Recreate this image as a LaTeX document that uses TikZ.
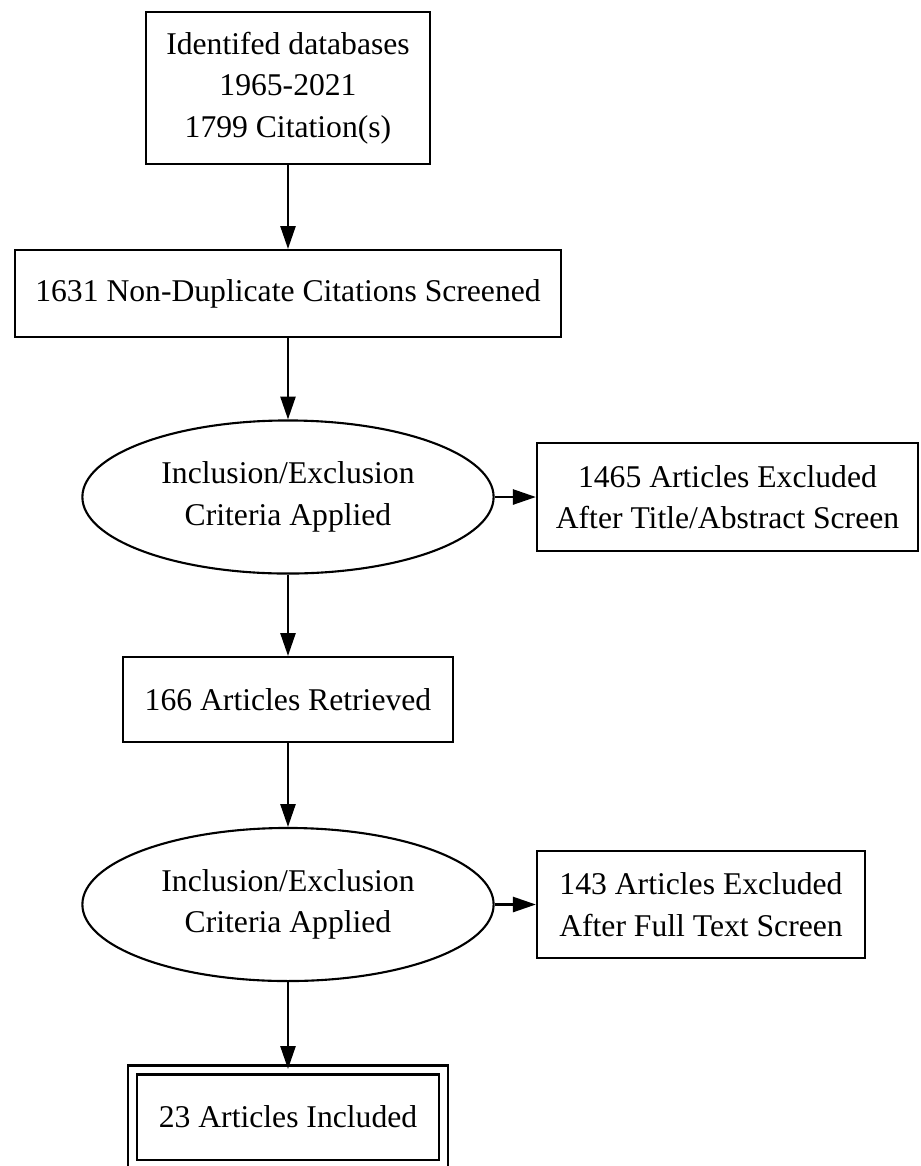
\documentclass[tikz,border=0pt]{standalone}
\usepackage{fontspec}
\setmainfont{Liberation Serif}
\usetikzlibrary{arrows.meta}
\usetikzlibrary{shapes.geometric}
\usetikzlibrary{math}

\tikzset{
  box/.style={draw, rectangle, line width=0.6pt, inner sep=0pt, align=center,
    font=\fontsize{9}{11.8}\selectfont},
  oval/.style={box, ellipse, minimum width=4.11cm, minimum height=1.53cm},
  arr/.style={-{Triangle[length=6.5pt,width=4.3pt]}, line width=0.6pt},
}

\begin{document}
\begin{tikzpicture}[x=0.01cm, y=-0.01cm]
\tikzmath{
\cx=288;
\rx=537;
}
\useasboundingbox (0,0) rectangle (920,1166);
\fill[white] (0,0) rectangle (920,1166);

%%%%%%%%%%   main column
\node[box, minimum width=2.84cm, minimum height=1.52cm] (id) at (\cx,88)
  {Identifed databases\\1965-2021\\1799 Citation(s)};
\node[box, minimum width=5.46cm, minimum height=0.87cm] (screen) at (\cx,293.5)
  {1631 Non-Duplicate Citations Screened};
\node[oval] (crit1) at (\cx,497) {Inclusion/Exclusion\\Criteria Applied};
\node[box, minimum width=3.30cm, minimum height=0.85cm] (retr) at (\cx,699.5)
  {166 Articles Retrieved};
\node[oval] (crit2) at (\cx,904.5) {Inclusion/Exclusion\\Criteria Applied};
\node[box, double, double distance=1.95pt, minimum width=3.11cm, minimum height=0.94cm]
  (incl) at (\cx,1117) {23 Articles Included};

%%%%%%%%%%   excluded
\node[box, minimum width=3.81cm, minimum height=1.08cm] (excl1) at (\rx+190.5,497)
  {1465 Articles Excluded\\After Title/Abstract Screen};
\node[box, minimum width=3.28cm, minimum height=1.07cm] (excl2) at (\rx+164,904.5)
  {143 Articles Excluded\\After Full Text Screen};

\draw[arr] (id) -- (screen);
\draw[arr] (screen) -- (crit1);
\draw[arr] (crit1) -- (excl1);
\draw[arr] (crit1) -- (retr);
\draw[arr] (retr) -- (crit2);
\draw[arr] (crit2) -- (excl2);
\draw[arr] (crit2) -- (incl);
\end{tikzpicture}
\end{document}
